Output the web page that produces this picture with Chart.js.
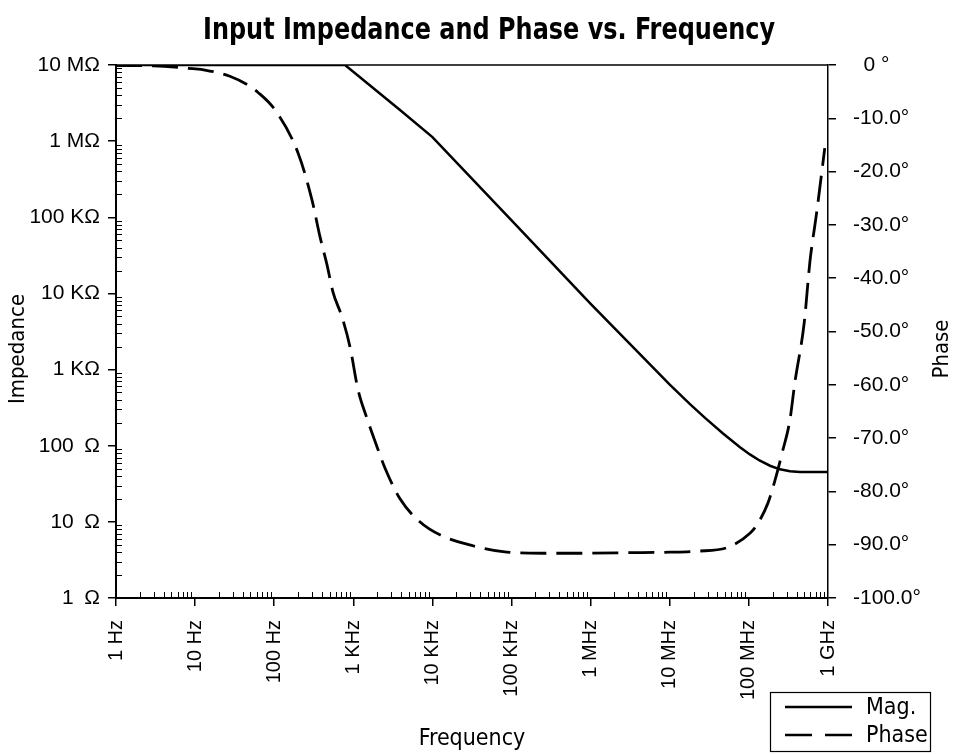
<!DOCTYPE html>
<html>
<head>
<meta charset="utf-8">
<script src="https://cdn.jsdelivr.net/npm/chart.js@4.4.0/dist/chart.umd.min.js"></script>
<style>
  html, body { margin: 0; padding: 0; background: #fff; }
  #wrap { width: 956px; height: 754px; }
</style>
</head>
<body>
<div id="wrap"><canvas id="chart" width="956" height="754"></canvas></div>
<script>
const freqTickLabels = ["1 Hz", "10 Hz", "100 Hz", "1 KHz", "10 KHz", "100 KHz", "1 MHz", "10 MHz", "100 MHz", "1 GHz"];
const impedanceTickLabels = ["1\u2002\u03A9", "10\u2002\u03A9", "100\u2002\u03A9", "1 K\u03A9", "10 K\u03A9", "100 K\u03A9", "1 M\u03A9", "10 M\u03A9"];
const phaseTickLabels = {
  0: "\u20020 \u00B0", "-10": "-10.0\u00B0", "-20": "-20.0\u00B0", "-30": "-30.0\u00B0", "-40": "-40.0\u00B0",
  "-50": "-50.0\u00B0", "-60": "-60.0\u00B0", "-70": "-70.0\u00B0", "-80": "-80.0\u00B0", "-90": "-90.0\u00B0", "-100": "-100.0\u00B0"
};

// magnitude (Hz, Ohm)
const magFreq = [1, 10, 100, 785, 3890, 1e4, 1e5, 1e6, 1e7, 1.8e7, 2.79e7, 4.71e7, 7.72e7, 1.03e8, 1.38e8, 1.85e8, 2.47e8, 3.31e8, 4.43e8, 1e9];
const magOhm  = [1e7, 1e7, 1e7, 1e7, 2.56e6, 1.13e6, 9.1e4, 7.28e3, 634, 352, 232, 145, 95.7, 76.9, 63.5, 54.6, 49.0, 46.2, 45.2, 45];

// phase (Hz, degrees)
const phaseFreq = [1, 3, 9.3, 13.3, 27.5, 47, 62, 102, 200, 300, 380, 465, 553, 720, 908, 1150, 1480, 2000, 2510, 3890,
  6920, 12600, 32400, 87000, 2.5e5, 7.4e5, 3.2e6, 1e7, 2.3e7, 5.2e7, 1.04e8, 1.26e8, 1.74e8, 2.14e8, 2.63e8,
  3.3e8, 3.8e8, 5.0e8, 5.9e8, 7.2e8, 9.1e8];
const phaseDeg = [-0.1, -0.15, -0.7, -0.95, -2.1, -3.8, -5.1, -8.4, -16.5, -25.3, -32.3, -37.5, -42.6, -47.3, -52.9, -61.0, -66.2, -71.7, -75.6, -81.4,
  -85.7, -88.2, -90.2, -91.4, -91.6, -91.6, -91.5, -91.4, -91.2, -90.6, -87.8, -86.3, -82.2, -77.9, -72.8,
  -66.6, -59.7, -48.4, -37.0, -27.6, -15.6];

const sansFont = '"Liberation Sans", Arial, sans-serif';
const narrowFont = '"DejaVu Sans Condensed", "Liberation Sans", sans-serif';

const decades = (lo, hi) => {
  const out = [];
  for (let v = lo; v <= hi; v *= 10) out.push({ value: v });
  return out;
};

const extras = {
  id: "extras",
  afterDraw(chart) {
    const { ctx, chartArea: a, scales } = chart;
    ctx.save();
    ctx.strokeStyle = "#000";
    ctx.fillStyle = "#000";

    // top frame line
    ctx.lineWidth = 1.5;
    ctx.beginPath();
    ctx.moveTo(a.left, a.top);
    ctx.lineTo(a.right, a.top);
    ctx.stroke();

    // minor ticks, inside the plot
    ctx.lineWidth = 1;
    ctx.beginPath();
    for (let d = 1; d < 1e9; d *= 10) {
      for (let k = 2; k < 10; k++) {
        const px = Math.round(scales.x.getPixelForValue(k * d)) + 0.5;
        ctx.moveTo(px, a.bottom);
        ctx.lineTo(px, a.bottom - 6);
      }
    }
    for (let d = 1; d < 1e7; d *= 10) {
      for (let k = 2; k < 10; k++) {
        const py = Math.round(scales.y.getPixelForValue(k * d)) + 0.5;
        ctx.moveTo(a.left, py);
        ctx.lineTo(a.left + 6, py);
      }
    }
    ctx.stroke();

    // title, squeezed to a condensed look
    const title = "Input Impedance and Phase vs. Frequency";
    ctx.font = 'bold 30px ' + narrowFont;
    ctx.textAlign = "center";
    ctx.textBaseline = "middle";
    const tw = ctx.measureText(title).width;
    ctx.save();
    ctx.translate(489, 31);
    ctx.scale(Math.min(1, 572 / tw), 1);
    ctx.fillText(title, 0, 0);
    ctx.restore();

    // vertical axis titles
    ctx.font = '22px ' + narrowFont;
    [["Impedance", 18], ["Phase", 942]].forEach(([t, x]) => {
      ctx.save();
      ctx.translate(x, 349);
      ctx.rotate(-Math.PI / 2);
      ctx.fillText(t, 0, 0);
      ctx.restore();
    });

    // legend box
    ctx.lineWidth = 1.2;
    ctx.strokeRect(770.5, 692.5, 160, 59);
    ctx.font = '23px ' + narrowFont;
    ctx.textAlign = "left";
    chart.data.datasets.forEach((ds, i) => {
      const y = 707 + i * 28;
      ctx.lineWidth = 2.5;
      ctx.setLineDash(i === 1 ? [27, 13] : []);
      ctx.beginPath();
      ctx.moveTo(785, y);
      ctx.lineTo(852, y);
      ctx.stroke();
      ctx.setLineDash([]);
      ctx.fillText(ds.label, 866, y + 1);
    });
    ctx.restore();
  }
};

new Chart(document.getElementById("chart"), {
  type: "line",
  data: {
    datasets: [
      {
        label: "Mag.",
        data: magFreq.map((f, i) => ({ x: f, y: magOhm[i] })),
        yAxisID: "y",
        borderColor: "#000",
        borderWidth: 2.5,
        pointRadius: 0,
        tension: 0,
        fill: false
      },
      {
        label: "Phase",
        data: phaseFreq.map((f, i) => ({ x: f, y: phaseDeg[i] })),
        yAxisID: "y2",
        borderColor: "#000",
        borderWidth: 2.8,
        borderDash: [26, 10],
        pointRadius: 0,
        cubicInterpolationMode: "monotone",
        fill: false
      }
    ]
  },
  options: {
    responsive: false,
    animation: false,
    layout: { padding: { top: 65, left: 0, right: 0, bottom: 0 } },
    plugins: {
      legend: { display: false },
      title: { display: false },
      tooltip: { enabled: false }
    },
    scales: {
      x: {
        type: "logarithmic",
        position: "bottom",
        min: 1,
        max: 1e9,
        afterBuildTicks: s => { s.ticks = decades(1, 1e9); },
        afterFit: s => { s.height = 156; },
        ticks: {
          autoSkip: false,
          minRotation: 90,
          maxRotation: 90,
          padding: 14,
          color: "#000",
          font: { family: sansFont, size: 20 },
          callback: v => freqTickLabels[Math.round(Math.log10(v))]
        },
        grid: { drawOnChartArea: false, tickLength: 8, color: "#000", lineWidth: 1.5 },
        border: { color: "#000", width: 2 },
        title: {
          display: true,
          text: "Frequency",
          color: "#000",
          font: { family: narrowFont, size: 23 },
          padding: { top: 0, bottom: 1 }
        }
      },
      y: {
        type: "logarithmic",
        position: "left",
        min: 1,
        max: 1e7,
        afterBuildTicks: s => { s.ticks = decades(1, 1e7); },
        afterFit: s => { s.width = 116; },
        ticks: {
          padding: 8,
          color: "#000",
          font: { family: sansFont, size: 21 },
          callback: v => impedanceTickLabels[Math.round(Math.log10(v))]
        },
        grid: { drawOnChartArea: false, tickLength: 8, color: "#000", lineWidth: 1.5 },
        border: { color: "#000", width: 2 }
      },
      y2: {
        type: "linear",
        position: "right",
        min: -100,
        max: 0,
        afterFit: s => { s.width = 128; },
        ticks: {
          stepSize: 10,
          padding: 17,
          color: "#000",
          font: { family: sansFont, size: 21 },
          callback: v => phaseTickLabels[Math.round(v)]
        },
        grid: { drawOnChartArea: false, tickLength: 8, color: "#000", lineWidth: 1.5 },
        border: { color: "#000", width: 1.5 }
      }
    }
  },
  plugins: [extras]
});
</script>
</body>
</html>
